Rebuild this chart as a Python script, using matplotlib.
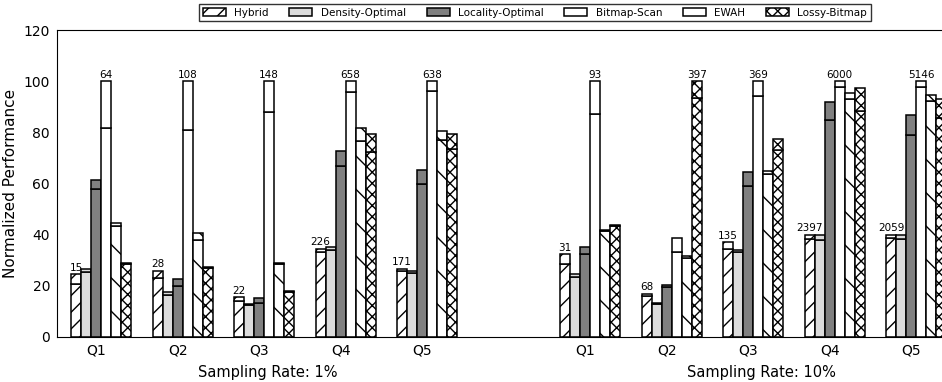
import numpy as np
import matplotlib
matplotlib.use('Agg')
import matplotlib.pyplot as plt

series = ['Hybrid', 'Density-Optimal', 'Locality-Optimal', 'Bitmap-Scan', 'EWAH', 'Lossy-Bitmap']
queries = ['Q1', 'Q2', 'Q3', 'Q4', 'Q5']
rates = ['Sampling Rate: 1%', 'Sampling Rate: 10%']

# normalized bar tops, one row per query, one column per series
top_1 = [
    [24.4, 26.3, 61.2, 100, 44.5, 28.9],
    [25.9, 17.6, 22.7, 100, 40.4, 27.2],
    [15.4, 12.8, 15.0, 100, 28.9, 17.9],
    [34.4, 35.2, 72.7, 100, 81.6, 79.4],
    [26.6, 25.8, 65.4, 100, 80.5, 79.3],
]
# height of the lower segment (inner line)
low_1 = [
    [20.6, 25.3, 57.6, 81.6, 43.2, 28.4],
    [22.8, 16.5, 19.8, 80.9, 38.0, 26.8],
    [13.9, 12.3, 13.3, 87.8, 28.3, 17.3],
    [33.1, 34.0, 66.7, 95.6, 76.6, 72.4],
    [25.8, 24.8, 59.6, 96.2, 76.8, 73.6],
]
top_10 = [
    [32.2, 24.5, 35.2, 100, 41.9, 43.8],
    [16.9, 13.0, 20.2, 38.8, 31.5, 100],
    [36.9, 34.1, 64.5, 100, 64.8, 77.5],
    [39.8, 39.8, 91.8, 100, 95.5, 97.3],
    [39.8, 39.8, 86.6, 100, 94.7, 93.1],
]
low_10 = [
    [28.4, 23.4, 32.2, 87.1, 41.2, 43.2],
    [15.8, 12.6, 19.4, 33.2, 30.6, 93.4],
    [34.5, 33.1, 59.0, 94.1, 63.6, 73.2],
    [38.3, 38.0, 84.8, 97.8, 93.1, 88.3],
    [38.6, 38.3, 79.1, 97.8, 92.3, 85.6],
]
# absolute numbers printed above Hybrid and above the tallest bar
hybrid_abs_1 = [15, 28, 22, 226, 171]
max_abs_1 = [64, 108, 148, 658, 638]
hybrid_abs_10 = [31, 68, 135, 2397, 2059]
max_abs_10 = [93, 397, 369, 6000, 5146]

colors = ['white', '#dcdcdc', '#808080', 'white', 'white', 'white']
hatches = ['//', '', '', '', '\\', 'xxx']

fig = plt.figure(figsize=(9.42, 3.82), dpi=100)
ax = fig.add_axes([57 / 942, 45.3 / 382, 0.967, 306.7 / 382])

w = 0.123
blocks = [
    (np.arange(5), top_1, low_1, hybrid_abs_1, max_abs_1),
    (np.arange(5) + 6, top_10, low_10, hybrid_abs_10, max_abs_10),
]
handles = []
for pos, tops, lows, habs, mabs in blocks:
    tops = np.array(tops)
    lows = np.array(lows)
    for j in range(len(series)):
        x = pos + j * w
        b = ax.bar(x, lows[:, j], w, align='edge', color=colors[j], hatch=hatches[j],
                   edgecolor='black', linewidth=1.1)
        ax.bar(x, tops[:, j] - lows[:, j], w, bottom=lows[:, j], align='edge',
               color=colors[j], hatch=hatches[j], edgecolor='black', linewidth=1.1)
        if len(handles) < len(series):
            handles.append(b)
    for i, p in enumerate(pos):
        ax.text(p + 0.5 * w, tops[i, 0] + 0.6, str(habs[i]), ha='center', va='bottom', fontsize=7.5)
        k = int(np.argmax(tops[i]))
        ax.text(p + (k + 0.5) * w, tops[i, k] + 0.6, str(mabs[i]), ha='center', va='bottom', fontsize=7.5)

ticks = np.concatenate([np.arange(5), np.arange(5) + 6]) + 2.5 * w
ax.set_xticks(ticks)
ax.set_xticklabels(queries * 2, fontsize=10)
ax.set_xlim(-0.172, -0.172 + 0.967 * 942 / 81.5)
ax.set_ylim(0, 120)
ax.set_yticks(range(0, 121, 20))
ax.tick_params(axis='both', length=0, pad=5, labelsize=10)
ax.set_ylabel('Normalized Performance', fontsize=11)
ax.spines['right'].set_visible(False)

# sampling-rate captions under each block
for x_px, txt in zip([268, 761], rates):
    fig.text(x_px / 942, 1 - 372 / 382, txt, ha='center', va='center', fontsize=10.5)

fig.legend(handles, series, loc='center', bbox_to_anchor=(535 / 942, 1 - 12.5 / 382),
           ncol=6, fontsize=7.5, frameon=True, fancybox=False, edgecolor='black',
           handlelength=2.2, handleheight=0.8, columnspacing=2.0, borderpad=0.35)

fig.savefig('out.png', dpi=100)
